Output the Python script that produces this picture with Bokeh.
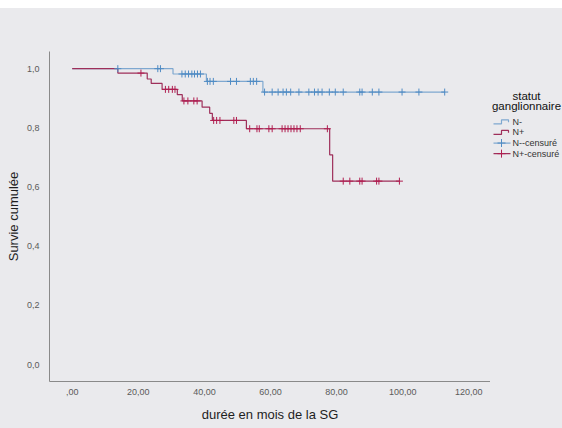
from bokeh.plotting import figure
from bokeh.layouts import row
from bokeh.models import FixedTicker, Range1d
from bokeh.core.properties import value
from bokeh.embed import file_html
from bokeh.resources import INLINE

# ---- data ----
neg_event_t = [0.0, 30.5, 40.6, 57.7]
neg_surv = [1.0, 0.982, 0.957, 0.921]
neg_end = 112.7
neg_cens_t = [13.8, 25.9, 26.7, 33.2, 34.2, 35.2, 36.2, 37.0, 37.9, 38.8,
              40.9, 41.7, 42.7, 47.9, 49.7, 53.9, 54.8, 55.8, 58.2, 60.5,
              62.3, 63.8, 64.8, 66.1, 68.6, 71.6, 73.3, 74.4, 75.6, 77.8,
              79.6, 82.0, 87.0, 87.7, 90.8, 92.8, 99.8, 104.9, 112.7]

pos_event_t = [0.0, 13.8, 22.7, 23.9, 27.2, 31.8, 33.3, 39.3, 41.6, 42.4,
               52.7, 77.9, 78.8]
pos_surv = [1.0, 0.985, 0.965, 0.950, 0.930, 0.912, 0.891, 0.870, 0.849,
            0.825, 0.797, 0.709, 0.620]
pos_end = 99.0
pos_cens_t = [20.8, 28.2, 29.2, 30.3, 31.1, 33.8, 35.0, 36.8, 37.8, 42.8,
              43.7, 44.7, 48.9, 49.7, 53.7, 55.9, 56.6, 59.5, 60.5, 63.5,
              64.4, 65.3, 66.2, 67.1, 68.0, 69.0, 77.2, 82.0, 84.0, 87.0,
              87.7, 92.1, 92.8, 99.0]

x_ticks = [0, 20, 40, 60, 80, 100, 120]
x_tick_labels = [",00", "20,00", "40,00", "60,00", "80,00", "100,00", "120,00"]
y_ticks = [0.0, 0.2, 0.4, 0.6, 0.8, 1.0]
y_tick_labels = ["0,0", "0,2", "0,4", "0,6", "0,8", "1,0"]

group_names = ["N-", "N+", "N--censuré", "N+-censuré"]
legend_title = ["statut", "ganglionnaire"]
x_title = "durée en mois de la SG"
y_title = "Survie cumulée"


def level_at(times, levels, t):
    v = levels[0]
    for tt, lv in zip(times, levels):
        if tt <= t:
            v = lv
    return v


BG = "#EAEAED"
NEG_LINE, NEG_MARK = "#7FA8D0", "#4F8BC4"
POS_LINE, POS_MARK = "#9E2F5A", "#B01E50"
FONT = "Liberation Sans"

# ---- main plot ----
p = figure(width=490, height=420, output_backend="svg", toolbar_location=None,
           x_range=Range1d(-6.87, 126.56), y_range=Range1d(-0.057, 1.058),
           min_border_left=49, min_border_right=0, min_border_top=43,
           min_border_bottom=47)
p.background_fill_color = BG
p.border_fill_color = BG
p.outline_line_color = None
p.grid.visible = False

for ax in (p.xaxis[0], p.yaxis[0]):
    ax.axis_line_color = "#8A8A8A"
    ax.major_tick_line_color = None
    ax.minor_tick_line_color = None
    ax.major_label_text_font = FONT
    ax.major_label_text_font_size = "9px"
    ax.major_label_text_color = "#5A5A5A"
    ax.axis_label_text_font = FONT
    ax.axis_label_text_font_size = "13px"
    ax.axis_label_text_font_style = "normal"
    ax.axis_label_text_color = "#1E1E1E"

p.xaxis.major_label_standoff = 1
p.yaxis.major_label_standoff = 4
p.xaxis.ticker = FixedTicker(ticks=x_ticks)
p.xaxis.major_label_overrides = {t: l for t, l in zip(x_ticks, x_tick_labels)}
p.yaxis.ticker = FixedTicker(ticks=y_ticks)
p.yaxis.major_label_overrides = {t: l for t, l in zip(y_ticks, y_tick_labels)}
p.xaxis.axis_label = x_title
p.yaxis.axis_label = y_title
p.xaxis.axis_label_standoff = 9
p.yaxis.axis_label_standoff = 3

neg_x = neg_event_t + [neg_end]
neg_y = neg_surv + [neg_surv[-1]]
pos_x = pos_event_t + [pos_end]
pos_y = pos_surv + [pos_surv[-1]]

p.step(neg_x, neg_y, mode="after", line_color=NEG_LINE, line_width=1.2)
p.step(pos_x, pos_y, mode="after", line_color=POS_LINE, line_width=1.2)

neg_cy = [level_at(neg_event_t, neg_surv, t) for t in neg_cens_t]
pos_cy = [level_at(pos_event_t, pos_surv, t) for t in pos_cens_t]
p.scatter(neg_cens_t, neg_cy, marker="cross", size=7,
          line_color=NEG_MARK, line_width=1)
p.scatter(pos_cens_t, pos_cy, marker="cross", size=7,
          line_color=POS_MARK, line_width=1)

# ---- legend panel (pixel-like coordinates, y downward) ----
lg = figure(width=72, height=420, output_backend="svg", toolbar_location=None,
            x_range=Range1d(0, 72), y_range=Range1d(420, 0),
            x_axis_location=None, y_axis_location=None, min_border=0)
lg.background_fill_color = BG
lg.border_fill_color = BG
lg.outline_line_color = None
lg.grid.visible = False

lg.text(x=[36, 36], y=[56, 69], text=legend_title, text_font=value(FONT),
        text_font_size=value("11.5px"), text_align="center",
        text_baseline="middle", text_color="#111111")

row_y = [89.5, 103.0, 116.5, 130.0]
gx0, gx1, gmid = 3, 20, 11
lg.text(x=[gx1 + 2] * 4, y=row_y, text=group_names, text_font=value(FONT),
        text_font_size=value("9px"), text_align="left",
        text_baseline="middle", text_color="#333333")
for yc, col in ((row_y[0], NEG_LINE), (row_y[1], POS_LINE)):
    lg.line([gx0, gmid, gmid, gx1 - 2, gx1 - 2],
            [yc + 2.5, yc + 2.5, yc - 2.5, yc - 2.5, yc + 0.5],
            line_color=col, line_width=1.2)
for yc, lcol, mcol in ((row_y[2], NEG_LINE, NEG_MARK), (row_y[3], POS_LINE, POS_MARK)):
    lg.line([gx0, gx1], [yc, yc], line_color=lcol, line_width=1.2)
    lg.scatter([gmid], [yc], marker="cross", size=8, line_color=mcol, line_width=1)

layout = row(p, lg, spacing=0,
             styles={"margin-top": "8px", "background-color": BG})

open("out.html", "w").write(file_html(layout, INLINE))
